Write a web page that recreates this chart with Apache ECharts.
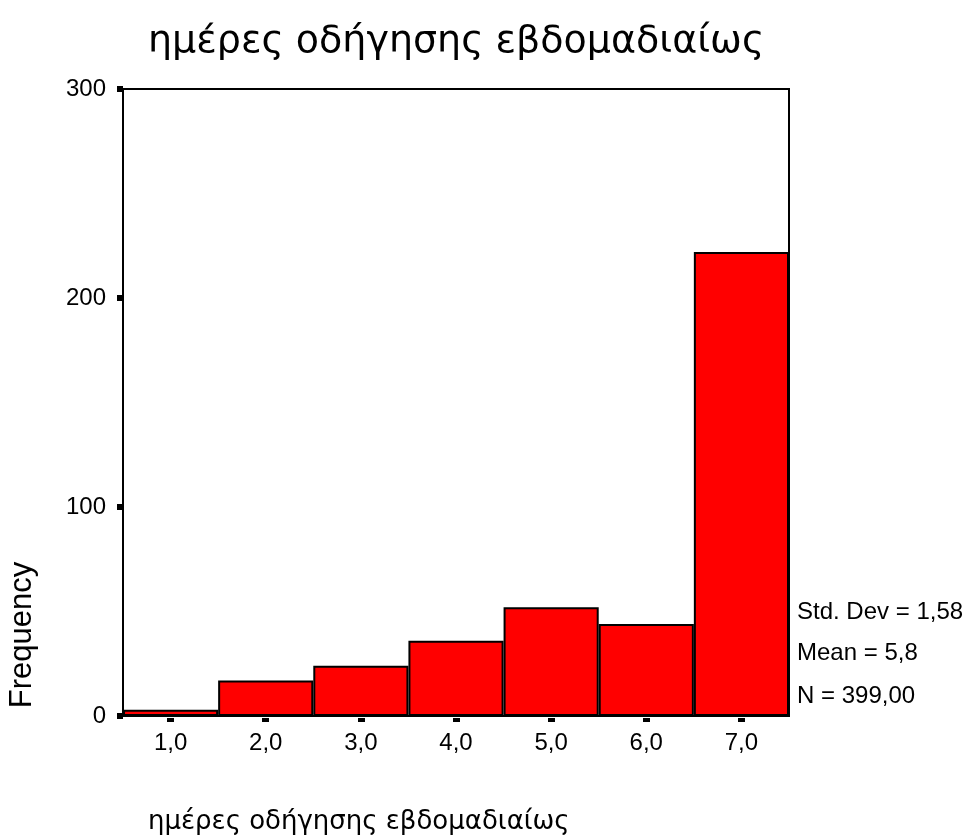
<!DOCTYPE html>
<html>
<head>
<meta charset="utf-8">
<script src="https://cdn.jsdelivr.net/npm/echarts@6/dist/echarts.min.js"></script>
<style>
	html, body { margin: 0; padding: 0; background: #fff; }
	#main { width: 971px; height: 838px; }
</style>
</head>
<body>
<div id="main"></div>
<script>
// histogram bins and counts
var categories = ['1,0', '2,0', '3,0', '4,0', '5,0', '6,0', '7,0'];
var counts = [3, 17, 24, 36, 52, 44, 222];
var yTicks = [0, 100, 200, 300];
var titleText = 'ημέρες οδήγησης εβδομαδιαίως';
var statLines = ['Std. Dev = 1,58', 'Mean = 5,8', 'N = 399,00'];

var chart = echarts.init(document.getElementById('main'));

var arial = '"Liberation Sans", Arial, sans-serif';
var greek = '"DejaVu Sans", sans-serif';

var statGraphics = [];
var statY = [612, 653, 696];
for (var i = 0; i < statLines.length; i++) {
	statGraphics.push({
		type: 'text',
		x: 797,
		y: statY[i],
		style: {
			text: statLines[i],
			font: '24px ' + arial,
			fill: '#000',
			verticalAlign: 'middle'
		}
	});
}

var option = {
	backgroundColor: '#fff',
	animation: false,
	title: {
		text: titleText,
		left: 148,
		top: 23,
		padding: 0,
		textStyle: {
			fontFamily: greek,
			fontSize: 38,
			fontWeight: 'normal',
			color: '#000'
		}
	},
	grid: {
		left: 123,
		right: 182,
		top: 89,
		bottom: 122,
		show: true,
		borderColor: '#000',
		borderWidth: 2,
		backgroundColor: 'transparent'
	},
	xAxis: [{
		type: 'category',
		data: categories,
		boundaryGap: true,
		axisLine: { lineStyle: { color: '#000', width: 2 } },
		axisTick: { show: false },
		axisLabel: {
			color: '#000',
			fontFamily: arial,
			fontSize: 24,
			margin: 15
		}
	}, {
		// detached tick marks below the baseline
		type: 'category',
		data: categories,
		position: 'bottom',
		offset: 2,
		axisLine: { show: false },
		axisTick: {
			show: true,
			alignWithLabel: true,
			length: 4,
			lineStyle: { color: '#000', width: 7 }
		},
		axisLabel: { show: false }
	}],
	yAxis: {
		type: 'value',
		min: yTicks[0],
		max: yTicks[yTicks.length - 1],
		interval: 100,
		splitLine: { show: false },
		axisLine: { show: true, lineStyle: { color: '#000', width: 2 } },
		axisTick: {
			show: true,
			length: 6,
			lineStyle: { color: '#000', width: 6 }
		},
		axisLabel: {
			color: '#000',
			fontFamily: arial,
			fontSize: 24,
			margin: 17
		}
	},
	series: [{
		type: 'bar',
		xAxisIndex: 0,
		data: counts,
		barCategoryGap: '0%',
		itemStyle: {
			color: '#ff0000',
			borderColor: '#000',
			borderWidth: 2
		}
	}],
	graphic: [{
		type: 'text',
		left: 148,
		top: 809,
		style: {
			text: titleText,
			font: '26px ' + greek,
			fill: '#000'
		}
	}, {
		type: 'text',
		x: 22,
		y: 635,
		rotation: Math.PI / 2,
		style: {
			text: 'Frequency',
			font: '31px ' + arial,
			fill: '#000',
			align: 'center',
			verticalAlign: 'middle'
		}
	}].concat(statGraphics)
};

chart.setOption(option);
</script>
</body>
</html>
